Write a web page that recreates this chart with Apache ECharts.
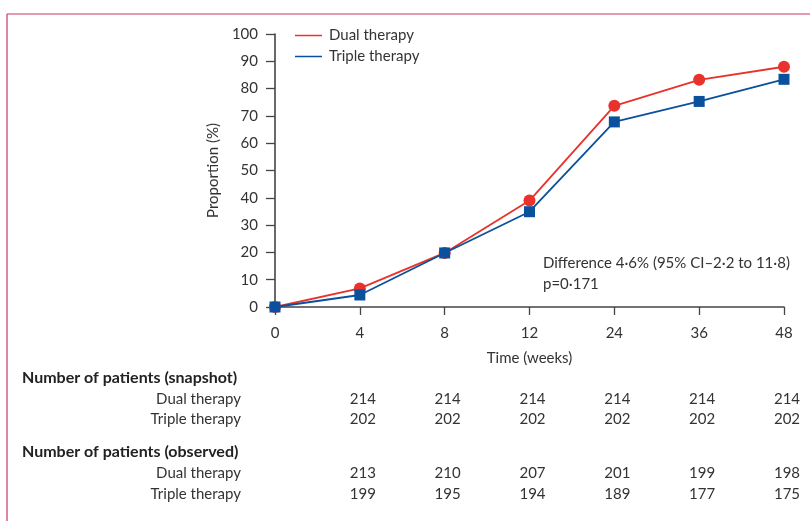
<!DOCTYPE html>
<html>
<head>
<meta charset="utf-8">
<script src="https://cdn.jsdelivr.net/npm/echarts@6/dist/echarts.min.js"></script>
<style>
html,body{margin:0;padding:0;background:#fff;}
#c{width:810px;height:521px;}
</style>
</head>
<body>
<div id="c"></div>
<script>
var weeks = ['0', '4', '8', '12', '24', '36', '48'];
var dualValues = [0, 6.8, 19.8, 39.0, 73.7, 83.2, 88.0];
var tripleValues = [0, 4.4, 19.8, 34.9, 67.8, 75.3, 83.4];
var yTicks = [0, 10, 20, 30, 40, 50, 60, 70, 80, 90, 100];
var tableWeeks = ['4', '8', '12', '24', '36', '48'];
var snapshotDual = [214, 214, 214, 214, 214, 214];
var snapshotTriple = [202, 202, 202, 202, 202, 202];
var observedDual = [213, 210, 207, 201, 199, 198];
var observedTriple = [199, 195, 194, 189, 177, 175];

var RED = '#e8322b';
var BLUE = '#0a509c';
var TXT = '#333333';
var AX = '#444444';
var FONT = 'Lato';

var chart = echarts.init(document.getElementById('c'));
var option = {
  animation: false,
  backgroundColor: '#ffffff',
  textStyle: { fontFamily: FONT },
  grid: { left: 275, right: 26, top: 34, bottom: 214, containLabel: false },
  legend: {
    orient: 'vertical',
    left: 295,
    top: 28,
    padding: 0,
    icon: 'rect',
    itemWidth: 27,
    itemHeight: 1.5,
    itemGap: 6,
    textStyle: { fontFamily: FONT, fontSize: 15, color: TXT, padding: [0, 0, 0, 2] },
    data: ['Dual therapy', 'Triple therapy']
  },
  xAxis: {
    type: 'category',
    data: weeks,
    boundaryGap: false,
    name: 'Time (weeks)',
    nameLocation: 'middle',
    nameGap: 44,
    nameTextStyle: { fontFamily: FONT, fontSize: 15, color: TXT },
    axisLine: { lineStyle: { color: AX, width: 1.6 } },
    axisTick: { alignWithLabel: true, length: 8, lineStyle: { color: AX, width: 1.3 } },
    axisLabel: { fontFamily: FONT, fontSize: 15, color: TXT, margin: 19 },
    splitLine: { show: false }
  },
  yAxis: {
    type: 'value',
    min: yTicks[0],
    max: yTicks[yTicks.length - 1],
    interval: 10,
    name: 'Proportion (%)',
    nameLocation: 'middle',
    nameGap: 47,
    nameTextStyle: { fontFamily: FONT, fontSize: 15, color: TXT },
    axisLine: { show: true, lineStyle: { color: AX, width: 1.6 } },
    axisTick: { show: true, length: 9, lineStyle: { color: AX, width: 1.3 } },
    axisLabel: { fontFamily: FONT, fontSize: 15, color: TXT, margin: 17 },
    splitLine: { show: false }
  },
  series: [
    {
      name: 'Dual therapy',
      type: 'line',
      data: dualValues,
      symbol: 'circle',
      symbolSize: 12,
      color: RED,
      lineStyle: { color: RED, width: 1.8 },
      itemStyle: { color: RED },
      z: 2
    },
    {
      name: 'Triple therapy',
      type: 'line',
      data: tripleValues,
      symbol: 'rect',
      symbolSize: 11,
      color: BLUE,
      lineStyle: { color: BLUE, width: 1.8 },
      itemStyle: { color: BLUE },
      z: 3
    }
  ]
};
chart.setOption(option);

function colX(w) {
  return chart.convertToPixel({ xAxisIndex: 0 }, w);
}
var els = [];
// frame
els.push({ type: 'line', shape: { x1: 7, y1: 14, x2: 810, y2: 14 }, style: { stroke: '#c8385f', lineWidth: 1.2 }, silent: true });
els.push({ type: 'line', shape: { x1: 7, y1: 14, x2: 7, y2: 521 }, style: { stroke: '#c8385f', lineWidth: 1.2 }, silent: true });
// annotation
els.push({ type: 'text', style: { text: 'Difference 4·6% (95% CI–2·2 to 11·8)', x: 543, y: 263, font: '15px ' + FONT, fill: TXT, textAlign: 'left', textVerticalAlign: 'middle' } });
els.push({ type: 'text', style: { text: 'p=0·171', x: 543, y: 284, font: '15px ' + FONT, fill: TXT, textAlign: 'left', textVerticalAlign: 'middle' } });
// table
function header(t, y) {
  els.push({ type: 'text', style: { text: t, x: 22, y: y, font: 'bold 16px ' + FONT, fill: '#222', textAlign: 'left', textVerticalAlign: 'middle' } });
}
function row(label, vals, y) {
  els.push({ type: 'text', style: { text: label, x: 241, y: y, font: '15px ' + FONT, fill: TXT, textAlign: 'right', textVerticalAlign: 'middle' } });
  for (var i = 0; i < vals.length; i++) {
    els.push({ type: 'text', style: { text: String(vals[i]), x: colX(tableWeeks[i]) + 3, y: y, font: '15px ' + FONT, fill: TXT, textAlign: 'center', textVerticalAlign: 'middle' } });
  }
}
header('Number of patients (snapshot)', 378);
row('Dual therapy', snapshotDual, 399);
row('Triple therapy', snapshotTriple, 419);
header('Number of patients (observed)', 452);
row('Dual therapy', observedDual, 473);
row('Triple therapy', observedTriple, 494);
chart.setOption({ graphic: { elements: els } });
</script>
</body>
</html>
